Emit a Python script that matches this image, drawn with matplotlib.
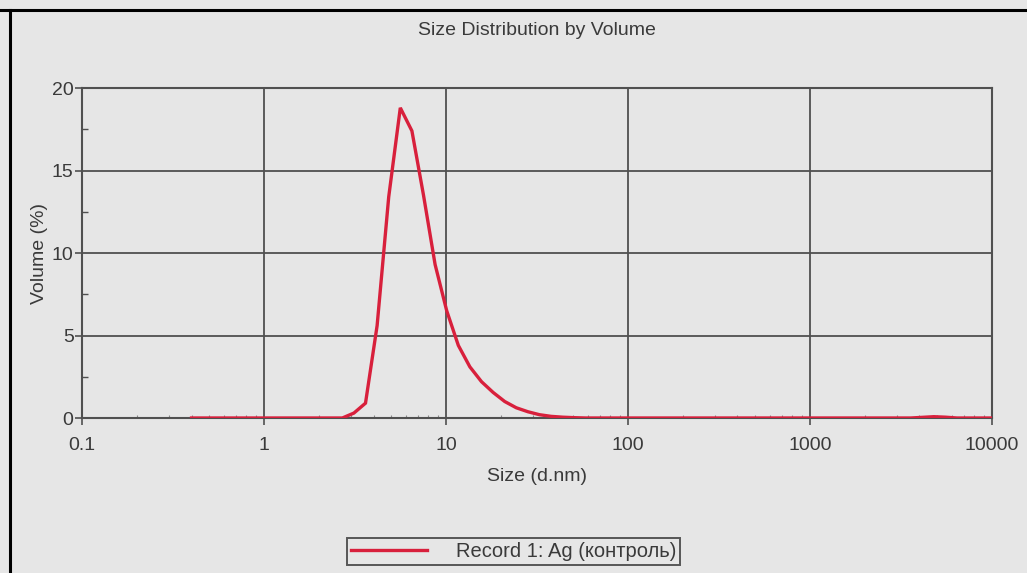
import matplotlib
matplotlib.use('Agg')
import matplotlib.pyplot as plt
from matplotlib.lines import Line2D
from matplotlib.ticker import FixedLocator, NullFormatter

# Размеры частиц (нм) и объёмная доля (%)
sizes = [0.4000, 0.4632, 0.5365, 0.6213, 0.7195, 0.8332, 0.9649, 1.117, 1.294, 1.499,
         1.736, 2.010, 2.328, 2.696, 3.122, 3.615, 4.187, 4.849, 5.615, 6.503,
         7.531, 8.721, 10.10, 11.70, 13.54, 15.69, 18.17, 21.04, 24.36, 28.21,
         32.67, 37.84, 43.82, 50.75, 58.77, 68.06, 78.82, 91.28, 105.7, 122.4,
         141.8, 164.2, 190.1, 220.2, 255.0, 295.3, 342.0, 396.1, 458.7, 531.2,
         615.1, 712.4, 825.0, 955.4, 1106, 1281, 1484, 1718, 1990, 2305,
         2669, 3091, 3580, 4145, 4801, 5560, 6439, 7456, 8635, 10000]
volume = [0, 0, 0, 0, 0, 0, 0, 0, 0, 0,
          0, 0, 0, 0, 0.3, 0.9, 5.6, 13.4, 18.8, 17.4,
          13.5, 9.3, 6.5, 4.4, 3.1, 2.2, 1.55, 1.0, 0.62, 0.38,
          0.2, 0.1, 0.05, 0.02, 0, 0, 0, 0, 0, 0,
          0, 0, 0, 0, 0, 0, 0, 0, 0, 0,
          0, 0, 0, 0, 0, 0, 0, 0, 0, 0,
          0, 0, 0, 0.04, 0.08, 0.05, 0, 0, 0, 0]

x_ticks = [0.1, 1, 10, 100, 1000, 10000]
x_labels = ['0.1', '1', '10', '100', '1000', '10000']
y_ticks = [0, 5, 10, 15, 20]

bg = '#e6e6e6'
grid_col = '#505050'
txt_col = '#3a3a3a'
red = '#d8203c'

plt.rcParams['font.family'] = ['Liberation Sans', 'DejaVu Sans']

fig = plt.figure(figsize=(10.27, 5.73), dpi=100, facecolor=bg)
ax = fig.add_axes([0.0798, 0.2705, 0.886, 0.5759], facecolor=bg)

line, = ax.plot(sizes, volume, color=red, lw=2.4, solid_joinstyle='miter',
                label='Record 1: Ag (контроль)', zorder=3)

ax.set_xscale('log')
ax.set_xlim(0.1, 10000)
ax.set_ylim(0, 20)
ax.set_xticks(x_ticks)
ax.set_xticklabels(x_labels)
ax.set_yticks(y_ticks)
ax.xaxis.set_minor_locator(FixedLocator([m * 10.0 ** e for e in range(-1, 4) for m in range(2, 10)]))
ax.xaxis.set_minor_formatter(NullFormatter())
ax.yaxis.set_minor_locator(FixedLocator([2.5, 7.5, 12.5, 17.5]))

ax.grid(True, which='major', color=grid_col, lw=1.3, zorder=1)
for s in ax.spines.values():
    s.set_color(grid_col)
    s.set_linewidth(1.5)

ax.tick_params(which='major', direction='out', length=5, width=1.2, color=grid_col,
               labelsize=14, labelcolor=txt_col)
ax.tick_params(axis='x', which='major', pad=9)
ax.tick_params(axis='y', which='major', pad=1)
ax.tick_params(axis='x', which='minor', direction='in', length=2.5, width=0.8, color='#8a8a8a')
ax.tick_params(axis='y', which='minor', direction='in', length=4, width=1.0, color=grid_col)

ax.set_title('Size Distribution by Volume', fontsize=14, color=txt_col, pad=0, y=1.16)
ax.set_xlabel('Size (d.nm)', fontsize=14, color=txt_col, labelpad=10)
ax.set_ylabel('Volume (%)', fontsize=14, color=txt_col, labelpad=3)

leg = fig.legend(handles=[line], loc='center', bbox_to_anchor=(0.5, 0.0375),
                 fontsize=14.5, frameon=True, fancybox=False, handlelength=3.8,
                 handletextpad=1.4, borderpad=0.22, labelcolor=txt_col)
leg.get_frame().set_edgecolor('#333333')
leg.get_frame().set_facecolor(bg)
leg.get_frame().set_linewidth(1.4)

# рамка скана сверху и слева
fig.add_artist(Line2D([0.0, 1.0], [1 - 10 / 573, 1 - 10 / 573], color='black', lw=2.2))
fig.add_artist(Line2D([10 / 1027, 10 / 1027], [0.0, 1 - 10 / 573], color='black', lw=2.2))

fig.savefig('out.png', dpi=100, facecolor=bg)
